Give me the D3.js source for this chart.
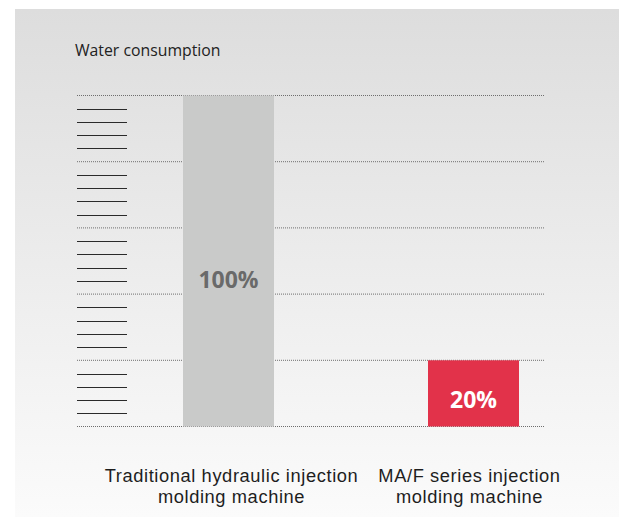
<!DOCTYPE html>
<html><head><meta charset="utf-8">
<script src="https://cdn.jsdelivr.net/npm/d3@7/dist/d3.min.js"></script>
<style>html,body{margin:0;padding:0;background:#fff;}svg{display:block;}</style>
</head><body>
<svg id="chart" width="619" height="517"></svg>
<script>
const title = "Water consumption";
const categories = ["Traditional hydraulic injection|molding machine", "MA/F series injection|molding machine"];
const values = [100, 20];
const valueLabels = ["100%", "20%"];
const barColors = ["#c9cac9", "#e2324a"];
const labelColors = ["#6a6a6a", "#ffffff"];
const gridTicks = [0, 20, 40, 60, 80, 100];
const minorTicks = d3.range(0, 100, 4).filter(v => v % 20 !== 0);

const svg = d3.select("#chart");
const defs = svg.append("defs");
const grad = defs.append("linearGradient").attr("id", "bg").attr("x1", 0).attr("y1", 0).attr("x2", 0).attr("y2", 1);
grad.append("stop").attr("offset", "0%").attr("stop-color", "#dddddd");
grad.append("stop").attr("offset", "100%").attr("stop-color", "#fbfbfb");
svg.append("rect").attr("x", 15).attr("y", 9).attr("width", 604).attr("height", 508).attr("fill", "url(#bg)");

svg.append("text").attr("x", 75).attr("y", 55.5).attr("font-family", "Open Sans, sans-serif")
  .attr("font-size", 15.8).attr("fill", "#222").text(title);

const y = d3.scaleLinear().domain([0, 100]).range([426.5, 95.5]);
const x = d3.scaleBand().domain(categories).range([183, 519]).paddingInner(0.6286).paddingOuter(0);

// dotted gridlines
svg.append("g").selectAll("line").data(gridTicks).join("line")
  .attr("x1", 77).attr("x2", 544).attr("y1", d => y(d)).attr("y2", d => y(d))
  .attr("stroke", "#6e6e6e").attr("stroke-width", 1).attr("stroke-dasharray", "1,1");

// minor short ticks
svg.append("g").selectAll("line").data(minorTicks).join("line")
  .attr("x1", 77).attr("x2", 127).attr("y1", d => Math.round(y(d)) + 0.5).attr("y2", d => Math.round(y(d)) + 0.5)
  .attr("stroke", "#2a2a2a").attr("stroke-width", 1.2);

// bars
svg.append("g").selectAll("rect").data(values).join("rect")
  .attr("x", (d, i) => x(categories[i])).attr("width", x.bandwidth())
  .attr("y", d => y(d)).attr("height", d => y(0) - y(d))
  .attr("fill", (d, i) => barColors[i]);

// value labels
svg.append("g").selectAll("text").data(values).join("text")
  .attr("x", (d, i) => x(categories[i]) + x.bandwidth() / 2)
  .attr("y", (d, i) => i === 0 ? 288 : 408)
  .attr("text-anchor", "middle").attr("font-family", "Open Sans, sans-serif")
  .attr("font-weight", "bold").attr("font-size", 23)
  .attr("fill", (d, i) => labelColors[i]).text((d, i) => valueLabels[i]);

// category labels (one text element per line)
const catG = svg.append("g");
categories.forEach((c, i) => {
  const cx = x(c) + x.bandwidth() / 2 + (i === 1 ? -4 : 3);
  c.split("|").forEach((p, j) => {
    catG.append("text").attr("x", cx).attr("y", 482 + j * 20.7)
      .attr("text-anchor", "middle").attr("font-family", "Liberation Sans, Arial, sans-serif")
      .attr("font-size", 18.3).attr("letter-spacing", 0.6).attr("fill", "#1e1e1e").text(p);
  });
});
</script>
</body></html>
